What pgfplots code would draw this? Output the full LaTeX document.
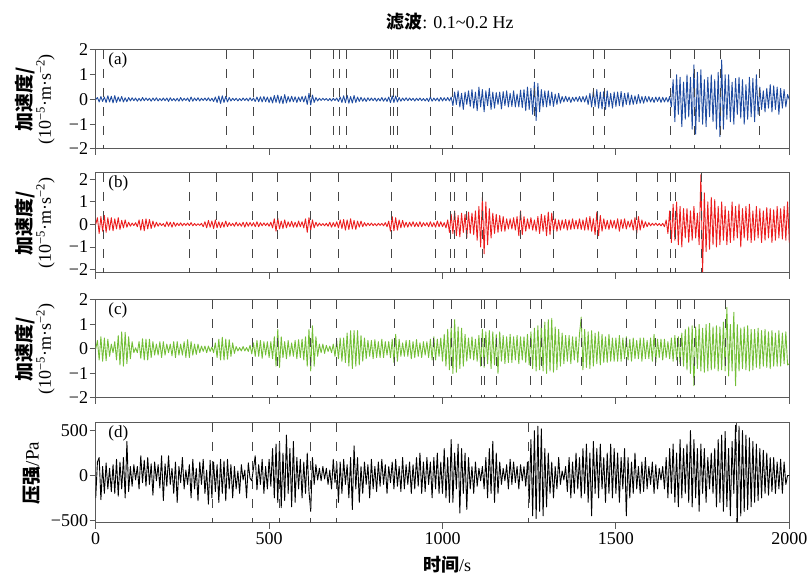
\documentclass[border=0pt]{standalone}
\usepackage{pgfplots}
\pgfplotsset{compat=1.18}
\usepackage{pgfplotstable}
\usepackage{fontspec}
\setmainfont{Liberation Serif}
\newfontfamily\cjk{Noto Sans CJK SC}

\definecolor{cblue}{RGB}{30,75,160}
\definecolor{cred}{RGB}{235,30,30}
\definecolor{cgreen}{RGB}{115,190,55}
\definecolor{cdash}{RGB}{70,70,70}
\definecolor{cframe}{RGB}{90,90,90}

% (a) acceleration, sampled every 5 s
\pgfplotstableread[row sep=\\,header=false]{
0\\0.08\\-0.1\\0.12\\-0.08\\0.1\\-0.12\\0.15\\-0.1\\0.13\\-0.14\\0.16\\-0.12\\0.1\\-0.08\\0.12\\-0.1\\0.07\\-0.09\\0.08\\
-0.06\\0.07\\-0.05\\0.06\\-0.07\\0.05\\-0.06\\0.08\\-0.05\\0.06\\-0.04\\0.05\\-0.07\\0.06\\-0.05\\0.07\\-0.06\\0.04\\-0.05\\0.06\\
-0.05\\0.06\\-0.08\\0.07\\-0.05\\0.04\\-0.06\\0.05\\-0.07\\0.08\\-0.06\\0.05\\-0.04\\0.06\\-0.08\\0.1\\-0.07\\0.06\\-0.05\\0.07\\
-0.06\\0.05\\-0.04\\0.06\\-0.05\\0.07\\-0.06\\0.05\\-0.08\\0.1\\-0.12\\0.14\\-0.16\\0.15\\-0.12\\0.13\\-0.1\\0.08\\-0.06\\0.05\\
-0.04\\0.05\\-0.06\\0.04\\-0.05\\0.06\\-0.04\\0.05\\-0.06\\0.07\\-0.05\\0.06\\-0.08\\0.1\\-0.09\\0.11\\-0.1\\0.12\\-0.09\\0.1\\
-0.12\\0.1\\-0.14\\0.16\\-0.12\\0.18\\-0.15\\0.13\\-0.17\\0.2\\-0.14\\0.12\\-0.1\\0.13\\-0.09\\0.11\\-0.12\\0.1\\-0.08\\0.12\\
-0.1\\0.14\\-0.2\\0.25\\-0.22\\0.18\\-0.12\\0.08\\-0.06\\0.05\\-0.04\\0.05\\-0.03\\0.04\\-0.05\\0.04\\-0.06\\0.05\\-0.04\\0.06\\
-0.08\\0.1\\-0.12\\0.15\\-0.13\\0.17\\-0.15\\0.12\\-0.14\\0.16\\-0.12\\0.1\\-0.08\\0.09\\-0.07\\0.06\\-0.08\\0.07\\-0.05\\0.06\\
-0.05\\0.06\\-0.07\\0.05\\-0.06\\0.08\\-0.07\\0.06\\-0.08\\0.1\\-0.13\\0.15\\-0.12\\0.14\\-0.1\\0.08\\-0.07\\0.06\\-0.05\\0.07\\
-0.05\\0.06\\-0.04\\0.05\\-0.06\\0.05\\-0.04\\0.06\\-0.05\\0.04\\-0.06\\0.05\\-0.08\\0.1\\-0.07\\0.06\\-0.05\\0.06\\-0.07\\0.08\\
-0.06\\0.07\\-0.05\\0.08\\-0.06\\0.1\\-0.25\\0.3\\-0.2\\0.35\\-0.3\\0.25\\-0.4\\0.3\\-0.2\\0.35\\-0.28\\0.4\\-0.35\\0.3\\
-0.45\\0.5\\-0.3\\0.4\\-0.5\\0.35\\-0.25\\0.45\\-0.4\\0.3\\-0.35\\0.28\\-0.2\\0.3\\-0.38\\0.32\\-0.25\\0.35\\-0.3\\0.25\\
-0.28\\0.35\\-0.3\\0.22\\-0.3\\0.38\\-0.33\\0.4\\-0.45\\0.5\\-0.4\\0.45\\-0.6\\0.7\\-0.85\\0.65\\-0.5\\0.4\\-0.3\\0.35\\
-0.3\\0.35\\-0.25\\0.3\\-0.28\\0.22\\-0.2\\0.25\\-0.15\\0.12\\-0.1\\0.13\\-0.08\\0.1\\-0.12\\0.09\\-0.07\\0.1\\-0.08\\0.12\\
-0.1\\0.12\\-0.1\\0.15\\-0.2\\0.25\\-0.3\\0.35\\-0.28\\0.4\\-0.35\\0.3\\-0.38\\0.32\\-0.4\\0.35\\-0.3\\0.25\\-0.35\\0.3\\
-0.28\\0.3\\-0.25\\0.32\\-0.3\\0.25\\-0.2\\0.28\\-0.22\\0.18\\-0.2\\0.15\\-0.18\\0.2\\-0.15\\0.12\\-0.15\\0.13\\-0.1\\0.12\\
-0.1\\0.08\\-0.12\\0.1\\-0.08\\0.1\\-0.12\\0.09\\-0.1\\0.08\\-0.1\\0.12\\-0.3\\0.8\\-0.9\\1.0\\-0.6\\0.9\\-1.1\\0.7\\
-0.8\\1.0\\-0.7\\0.9\\-1.2\\1.4\\-1.4\\1.1\\-0.9\\1.2\\-1.0\\0.8\\-1.1\\0.9\\-0.7\\1.0\\-0.9\\0.8\\-1.2\\1.1\\
-1.5\\1.6\\-1.2\\1.0\\-0.8\\1.0\\-0.9\\0.7\\-1.0\\0.85\\-0.6\\0.9\\-0.75\\0.8\\-1.0\\0.6\\-0.8\\0.9\\-0.7\\0.85\\
-0.9\\1.0\\-0.6\\0.5\\-0.4\\0.35\\-0.5\\0.45\\-0.35\\0.6\\-0.5\\0.55\\-0.4\\0.5\\-0.6\\0.45\\-0.35\\0.4\\-0.3\\0.2\\
0\\
}\dataA

% (b)
\pgfplotstableread[row sep=\\,header=false]{
0\\0.3\\-0.4\\0.35\\-0.3\\0.4\\-0.35\\0.3\\-0.25\\0.3\\-0.28\\0.25\\-0.2\\0.3\\-0.22\\0.18\\-0.15\\0.2\\-0.12\\0.1\\
-0.08\\0.06\\-0.05\\0.08\\-0.1\\0.2\\-0.25\\0.22\\-0.28\\0.25\\-0.2\\0.22\\-0.18\\0.15\\-0.12\\0.1\\-0.08\\0.06\\-0.05\\0.04\\
-0.1\\0.12\\-0.08\\0.1\\-0.12\\0.1\\-0.08\\0.06\\-0.05\\0.07\\-0.06\\0.05\\-0.04\\0.06\\-0.05\\0.08\\-0.06\\0.04\\-0.05\\0.03\\
-0.04\\0.05\\-0.1\\0.12\\-0.15\\0.18\\-0.12\\0.15\\-0.18\\0.2\\-0.15\\0.12\\-0.14\\0.1\\-0.12\\0.15\\-0.1\\0.08\\-0.06\\0.05\\
-0.08\\0.1\\-0.07\\0.06\\-0.08\\0.1\\-0.12\\0.1\\-0.08\\0.09\\-0.07\\0.08\\-0.1\\0.12\\-0.1\\0.08\\-0.06\\0.07\\-0.05\\0.06\\
-0.08\\0.1\\-0.15\\0.25\\-0.3\\0.28\\-0.2\\0.15\\-0.18\\0.2\\-0.15\\0.12\\-0.1\\0.14\\-0.12\\0.1\\-0.12\\0.15\\-0.1\\0.12\\
-0.15\\0.25\\-0.35\\0.3\\-0.25\\0.2\\-0.15\\0.1\\-0.08\\0.06\\-0.05\\0.04\\-0.06\\0.05\\-0.08\\0.1\\-0.12\\0.08\\-0.1\\0.12\\
-0.15\\0.2\\-0.18\\0.22\\-0.25\\0.2\\-0.22\\0.25\\-0.2\\0.18\\-0.22\\0.15\\-0.12\\0.15\\-0.1\\0.08\\-0.07\\0.06\\-0.05\\0.06\\
-0.05\\0.04\\-0.06\\0.05\\-0.04\\0.05\\-0.06\\0.08\\-0.1\\0.15\\-0.3\\0.35\\-0.28\\0.3\\-0.25\\0.2\\-0.15\\0.18\\-0.12\\0.1\\
-0.12\\0.1\\-0.08\\0.12\\-0.1\\0.08\\-0.1\\0.12\\-0.1\\0.08\\-0.06\\0.08\\-0.1\\0.12\\-0.1\\0.08\\-0.12\\0.15\\-0.1\\0.12\\
-0.1\\0.08\\-0.15\\0.2\\-0.35\\0.45\\-0.4\\0.6\\-0.5\\0.4\\-0.55\\0.5\\-0.35\\0.45\\-0.6\\0.55\\-0.4\\0.5\\-0.45\\0.6\\
-0.7\\0.8\\-1.0\\1.2\\-1.3\\1.0\\-0.9\\0.7\\-0.6\\0.5\\-0.4\\0.45\\-0.35\\0.4\\-0.3\\0.35\\-0.3\\0.25\\-0.2\\0.25\\
-0.2\\0.3\\-0.25\\0.35\\-0.5\\0.6\\-0.45\\0.35\\-0.3\\0.25\\-0.2\\0.3\\-0.25\\0.2\\-0.3\\0.35\\-0.4\\0.45\\-0.3\\0.4\\
-0.5\\0.55\\-0.45\\0.5\\-0.3\\0.25\\-0.3\\0.2\\-0.25\\0.2\\-0.18\\0.22\\-0.25\\0.2\\-0.22\\0.25\\-0.2\\0.18\\-0.2\\0.25\\
-0.22\\0.2\\-0.25\\0.3\\-0.25\\0.35\\-0.3\\0.25\\-0.45\\0.55\\-0.5\\0.4\\-0.3\\0.25\\-0.2\\0.18\\-0.22\\0.2\\-0.15\\0.18\\
-0.2\\0.25\\-0.3\\0.22\\-0.18\\0.25\\-0.2\\0.15\\-0.12\\0.2\\-0.25\\0.3\\-0.4\\0.35\\-0.25\\0.2\\-0.15\\0.12\\-0.1\\0.08\\
-0.06\\0.05\\-0.04\\0.06\\-0.05\\0.04\\-0.06\\0.05\\-0.1\\0.2\\-0.4\\0.6\\-0.8\\0.9\\-0.7\\1.0\\-0.9\\0.8\\-1.0\\0.7\\
-0.6\\0.7\\-0.8\\0.6\\-0.7\\0.8\\-0.6\\0.5\\-0.9\\2.2\\-2.1\\1.4\\-1.2\\1.0\\-1.1\\1.2\\-0.9\\1.1\\-1.0\\0.8\\
-0.9\\1.0\\-0.7\\0.8\\-0.9\\0.6\\-0.8\\1.0\\-0.7\\0.8\\-0.6\\0.9\\-1.0\\0.7\\-0.6\\0.8\\-0.7\\0.9\\-0.8\\0.6\\
-0.7\\0.8\\-0.6\\0.7\\-0.8\\0.6\\-0.7\\0.75\\-0.6\\0.7\\-0.8\\0.65\\-0.7\\0.8\\-0.6\\0.7\\-0.65\\0.8\\-0.7\\1.0\\
-0.8\\
}\dataB

% (c)
\pgfplotstableread[row sep=\\,header=false]{
0\\0.35\\-0.45\\0.5\\-0.5\\0.45\\-0.48\\0.4\\-0.3\\0.2\\-0.15\\0.3\\-0.45\\0.55\\-0.65\\0.7\\-0.7\\0.68\\-0.6\\0.5\\
-0.4\\0.3\\-0.15\\0.05\\-0.15\\0.3\\-0.38\\0.42\\-0.45\\0.4\\-0.45\\0.4\\-0.35\\0.3\\-0.25\\0.2\\-0.25\\0.3\\-0.35\\0.3\\
-0.25\\0.2\\-0.15\\0.2\\-0.28\\0.3\\-0.35\\0.3\\-0.25\\0.2\\-0.25\\0.3\\-0.35\\0.38\\-0.35\\0.3\\-0.25\\0.2\\-0.22\\0.2\\
-0.15\\0.12\\-0.1\\0.12\\-0.15\\0.12\\-0.1\\0.08\\-0.15\\0.25\\-0.35\\0.4\\-0.45\\0.48\\-0.45\\0.4\\-0.42\\0.38\\-0.3\\0.25\\
-0.18\\0.1\\-0.08\\0.06\\-0.08\\0.1\\-0.08\\0.06\\-0.1\\0.15\\-0.2\\0.25\\-0.3\\0.35\\-0.3\\0.35\\-0.38\\0.3\\-0.25\\0.3\\
-0.35\\0.3\\-0.4\\0.5\\-0.7\\0.8\\-0.75\\0.5\\-0.35\\0.3\\-0.4\\0.35\\-0.3\\0.25\\-0.3\\0.35\\-0.4\\0.38\\-0.35\\0.4\\
-0.45\\0.5\\-0.7\\0.8\\-0.9\\0.95\\-0.7\\0.5\\-0.3\\0.2\\-0.15\\0.2\\-0.18\\0.15\\-0.1\\0.12\\-0.15\\0.2\\-0.3\\0.35\\
-0.4\\0.45\\-0.5\\0.45\\-0.55\\0.65\\-0.7\\0.75\\-0.8\\0.75\\-0.7\\0.75\\-0.65\\0.55\\-0.5\\0.45\\-0.4\\0.35\\-0.3\\0.35\\
-0.4\\0.38\\-0.35\\0.3\\-0.35\\0.4\\-0.35\\0.3\\-0.25\\0.3\\-0.35\\0.4\\-0.55\\0.6\\-0.5\\0.4\\-0.3\\0.25\\-0.3\\0.35\\
-0.3\\0.35\\-0.4\\0.3\\-0.35\\0.38\\-0.3\\0.25\\-0.35\\0.3\\-0.25\\0.3\\-0.35\\0.4\\-0.45\\0.5\\-0.45\\0.4\\-0.3\\0.45\\
-0.5\\0.6\\-0.7\\0.8\\-0.85\\0.9\\-1.0\\1.2\\-0.95\\0.9\\-0.8\\0.85\\-0.7\\0.6\\-0.5\\0.45\\-0.4\\0.5\\-0.45\\0.4\\
-0.5\\0.55\\-0.7\\0.8\\-0.75\\0.7\\-0.6\\0.75\\-0.8\\0.7\\-0.65\\0.6\\-1.0\\0.7\\-0.5\\0.55\\-0.6\\0.5\\-0.55\\0.6\\
-0.55\\0.5\\-0.45\\0.55\\-0.6\\0.5\\-0.45\\0.5\\-0.55\\0.6\\-0.65\\0.7\\-0.8\\0.85\\-0.9\\0.95\\-0.85\\1.0\\-0.9\\1.1\\
-1.0\\1.2\\-0.9\\1.25\\-0.95\\0.9\\-0.85\\0.8\\-0.7\\0.65\\-0.6\\0.55\\-0.5\\0.55\\-0.6\\0.5\\-0.45\\0.5\\-0.55\\0.6\\
1.3\\-0.85\\0.8\\-0.75\\0.7\\-0.8\\0.75\\-0.7\\0.65\\-0.6\\0.7\\-0.65\\0.6\\-0.55\\0.5\\-0.55\\0.6\\-0.5\\0.45\\-0.5\\
0.45\\-0.5\\0.55\\-0.5\\0.45\\-0.4\\0.5\\-0.45\\0.4\\-0.5\\0.45\\-0.4\\0.35\\-0.4\\0.45\\-0.5\\0.45\\-0.4\\0.35\\-0.4\\
0.45\\-0.5\\0.6\\-0.55\\0.4\\-0.35\\0.4\\-0.45\\0.4\\-0.35\\0.3\\-0.4\\0.45\\-0.5\\0.55\\-0.45\\0.5\\-0.6\\0.65\\-0.7\\
0.8\\-0.85\\0.9\\-1.0\\0.95\\-1.5\\0.9\\-0.8\\1.0\\-0.9\\0.85\\-0.95\\1.0\\-0.9\\1.05\\-0.85\\0.9\\-0.8\\0.95\\-0.9\\
0.9\\-0.85\\1.1\\-0.9\\1.7\\-1.1\\1.0\\-0.9\\1.5\\-1.5\\1.0\\-0.9\\0.85\\-0.8\\0.9\\-0.85\\0.95\\-0.9\\0.8\\-0.85\\
0.8\\-0.75\\0.85\\-0.8\\0.75\\-0.7\\0.8\\-0.75\\0.7\\-0.8\\0.75\\-0.7\\0.65\\-0.7\\0.75\\-0.7\\0.65\\-0.6\\0.7\\-0.65\\
-0.6\\
}\dataC

% (d) pressure, Pa
\pgfplotstableread[row sep=\\,header=false]{
-250\\150\\200\\-270\\100\\-200\\140\\-150\\80\\-180\\120\\-200\\180\\-230\\150\\-150\\200\\-250\\380\\-180\\
100\\-120\\120\\-50\\100\\-150\\220\\-80\\170\\-120\\200\\-100\\130\\-220\\150\\-60\\120\\-140\\220\\-280\\
130\\-120\\220\\-100\\80\\-200\\150\\-300\\100\\-80\\200\\-150\\60\\-100\\120\\-250\\180\\-150\\80\\-280\\
150\\-100\\180\\-200\\60\\-320\\170\\-250\\150\\-180\\120\\-300\\180\\-200\\160\\-280\\180\\-150\\120\\-250\\
100\\-150\\50\\-200\\120\\-50\\60\\-250\\140\\-30\\-60\\80\\220\\-160\\120\\-100\\180\\-200\\100\\-150\\
180\\-120\\300\\-250\\350\\-300\\380\\-360\\250\\-280\\450\\-200\\300\\-350\\380\\-300\\200\\-150\\180\\-250\\
150\\-200\\250\\-180\\-400\\200\\-100\\120\\-50\\80\\-60\\100\\-40\\80\\-100\\60\\-150\\180\\-80\\150\\
-300\\150\\-200\\180\\-100\\120\\-250\\200\\-380\\330\\-150\\200\\-300\\100\\-200\\150\\-100\\120\\-250\\180\\
-150\\100\\-180\\150\\-120\\180\\-100\\120\\-200\\100\\-80\\150\\-150\\180\\-120\\100\\-180\\200\\-150\\120\\
-100\\150\\-200\\120\\-150\\200\\-120\\250\\-200\\150\\-180\\200\\-100\\150\\-250\\200\\-150\\250\\-200\\150\\
-200\\300\\-250\\200\\-300\\400\\-300\\250\\-150\\350\\-420\\300\\-200\\250\\-380\\200\\-150\\100\\-200\\150\\
-120\\80\\-60\\100\\-150\\200\\-250\\300\\-200\\380\\-300\\250\\-200\\150\\-100\\80\\-60\\120\\-150\\180\\
-100\\150\\-80\\100\\-150\\120\\-60\\100\\-120\\150\\-300\\400\\-450\\500\\-480\\550\\-400\\520\\-450\\300\\
-350\\250\\-200\\150\\-250\\100\\-150\\200\\-100\\50\\-50\\100\\-180\\200\\-250\\150\\-200\\250\\-150\\200\\
-250\\300\\-200\\350\\-300\\250\\-450\\380\\-200\\300\\-250\\350\\-150\\200\\-300\\250\\-200\\350\\-250\\300\\
-200\\250\\-300\\200\\-150\\300\\-450\\200\\-250\\150\\-200\\250\\-150\\100\\-200\\150\\-180\\200\\-150\\100\\
-100\\150\\-200\\120\\-150\\80\\-50\\100\\-150\\200\\-250\\300\\-200\\350\\-300\\250\\-350\\400\\-250\\300\\
-200\\350\\-300\\500\\-350\\400\\-250\\300\\-400\\350\\-200\\300\\-300\\200\\-150\\250\\-200\\300\\-350\\400\\
-300\\450\\-400\\490\\-350\\300\\-450\\380\\-200\\560\\-520\\550\\-450\\500\\-400\\450\\-380\\420\\-350\\380\\
-300\\350\\-280\\300\\-250\\280\\-200\\250\\-220\\200\\-180\\200\\-200\\150\\-150\\180\\-200\\150\\-100\\0\\
0\\
}\dataD

\pgfplotsset{
  panel/.style={
    scale only axis, width=693.6pt,
    xmin=0, xmax=2000, xtick={0,500,1000,1500,2000},
    tick align=outside, xtick pos=left, ytick pos=left,
    major tick length=6pt,
    axis line style={cframe, line width=1pt},
    every tick/.style={cframe, line width=1pt},
    tick label style={font=\fontsize{18}{18}\selectfont},
    yticklabel style={inner sep=1.5pt},
    xticklabel style={inner sep=3pt},
    ylabel style={at={(axis description cs:-0.0875,0.5)}, anchor=center, rotate=0, align=center},
  },
  vline/.style={cdash, line width=1pt, dash pattern=on 9pt off 10pt},
  sig/.style={line width=0.9pt, mark=none, line join=round},
}

\newcommand{\acclabel}{{\cjk\bfseries\fontsize{19}{24}\selectfont 加速度/}\\{\fontsize{18}{24}\selectfont (10\textsuperscript{−5}·m·s\textsuperscript{−2})}}
\newcommand{\plab}[1]{\node[anchor=north west, inner sep=0pt, font=\fontsize{17}{17}\selectfont] at (rel axis cs:0.018,0.975) {#1};}

\begin{document}
\begin{tikzpicture}[x=1pt,y=1pt]
\path[use as bounding box] (0,0) rectangle (811,588);

\node[font=\fontsize{18}{18}\selectfont] at (450,566) {{\cjk\bfseries 滤波}: 0.1\textasciitilde0.2 Hz};

% (a)
\begin{axis}[panel, at={(95.7pt,439pt)}, anchor=south west, height=99pt,
  ymin=-2, ymax=2, ytick={-2,-1,0,1,2}, yticklabels={−2,−1,0,1,2},
  xticklabels={}, ylabel={\acclabel}]
\addplot[sig, cblue] table[x expr=\coordindex*5, y index=0] {\dataA};
\pgfplotsinvokeforeach{22,376,454,618,685,702,724,849,858,870,966,1028,1266,1435,1466,1656,1728,1803,1915}{
  \addplot[vline] coordinates {(#1,2) (#1,-2)};
}
\plab{(a)}
\end{axis}

% (b)
\begin{axis}[panel, at={(95.7pt,315pt)}, anchor=south west, height=100pt,
  ymin=-2.15, ymax=2.28, ytick={-2,-1,0,1,2}, yticklabels={−2,−1,0,1,2},
  xticklabels={}, ylabel={\acclabel}]
\addplot[sig, cred] table[x expr=\coordindex*5, y index=0] {\dataB};
\pgfplotsinvokeforeach{22,270,349,452,525,618,700,853,980,1022,1034,1070,1116,1226,1319,1447,1560,1619,1656,1671,1747}{
  \addplot[vline] coordinates {(#1,2.28) (#1,-2.15)};
}
\plab{(b)}
\end{axis}

% (c)
\begin{axis}[panel, at={(95.7pt,190pt)}, anchor=south west, height=98pt,
  ymin=-2, ymax=2, ytick={-2,-1,0,1,2}, yticklabels={−2,−1,0,1,2},
  xticklabels={}, ylabel={\acclabel}]
\addplot[sig, cgreen] table[x expr=\coordindex*5, y index=0] {\dataC};
\pgfplotsinvokeforeach{336,453,525,618,693,861,974,1026,1113,1122,1156,1254,1286,1401,1531,1613,1677,1685,1727,1817}{
  \addplot[vline] coordinates {(#1,2) (#1,-2)};
}
\plab{(c)}
\end{axis}

% (d)
\begin{axis}[panel, at={(95.7pt,65pt)}, anchor=south west, height=100pt,
  ymin=-530, ymax=585, ytick={-500,0,500}, yticklabels={−500,0,500},
  xticklabels={0,500,1000,1500,2000},
  ylabel={{\cjk\bfseries\fontsize{19}{24}\selectfont 压强}{\fontsize{19}{24}\selectfont /Pa}},
  ylabel style={at={(axis description cs:-0.092,0.5)}},
  xlabel={{\cjk\bfseries\fontsize{18}{18}\selectfont 时间}{\fontsize{18}{18}\selectfont /s}},
  xlabel style={at={(axis description cs:0.5065,-0.42)}, anchor=center}]
\addplot[sig, black] table[x expr=\coordindex*5, y index=0] {\dataD};
\pgfplotsinvokeforeach{338,453,529,620,693,1247,1848}{
  \addplot[vline] coordinates {(#1,585) (#1,-530)};
}
\plab{(d)}
\end{axis}
\end{tikzpicture}
\end{document}
